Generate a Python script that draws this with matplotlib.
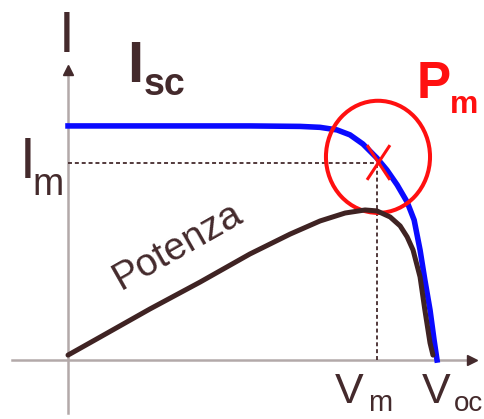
import matplotlib.pyplot as plt
from matplotlib.patches import Ellipse
from matplotlib.path import Path

# === Curve data (V and I in % of Voc / Isc) ===
v_iv = [0, 22.2, 49.3, 62.9, 68.3, 72.9, 76.4, 79.9, 83.7, 86.4, 89.2, 91.9,
        93.8, 95.4, 96.7, 98.1, 99.2, 100]
i_iv = [100, 100, 100, 99.8, 99.4, 98.3, 96.2, 92.3, 86.3, 81.2, 74.8, 67.5,
        59.8, 47.0, 34.2, 21.4, 8.5, 0]

v_pow = [0, 8.7, 22.2, 35.8, 49.3, 60.2, 68.3, 75.1, 80.5, 83.7, 87.3, 90.0,
         91.9, 93.5, 95.4, 96.7, 98.1, 98.9]
p_pow = [2.1, 9.8, 21.8, 33.3, 45.3, 53.8, 59.4, 62.8, 64.1, 63.7, 61.1, 57.3,
         52.6, 47.0, 35.5, 21.4, 7.3, 2.1]

# maximum power point
VM = 83.7
IM = 84.2

TEXT_COL = '#442a2c'
CURVE_COL = '#3f2323'
AXIS_COL = '#b3a9a9'
RED = '#ff1010'
FONT = 'Liberation Sans'

fig = plt.figure(figsize=(4.85, 4.19), dpi=100)
ax = fig.add_axes([0, 0, 1, 1])
ax.set_xlim(-18.43, 113.0)
ax.set_ylim(-25.2, 153.8)
ax.axis('off')

# axes with arrow heads
ax.plot([0, 0], [-22.6, 124.5], color=AXIS_COL, lw=1.8, zorder=1)
ax.plot([-15.2, 109.5], [0, 0], color=AXIS_COL, lw=1.8, zorder=1)
ax.plot(0, 124.0, marker='^', ms=7.5, color=TEXT_COL, zorder=2)
ax.plot(109.4, 0, marker='>', ms=7.5, color=TEXT_COL, zorder=2)

# guide lines to the max power point
dash = (0, (2.2, 1.6))
ax.plot([0, VM], [IM, IM], color=TEXT_COL, lw=1.3, linestyle=dash, zorder=2)
ax.plot([VM, VM], [0, IM], color=TEXT_COL, lw=1.3, linestyle=dash, zorder=2)

# I-V curve and power curve
ax.plot(v_iv, i_iv, color='#0a0aff', lw=4.0, solid_joinstyle='round', zorder=3)
ax.add_patch(Ellipse((84.0, 86.8), 28.2, 47.9, fill=False, edgecolor=RED,
                     lw=2.9, zorder=4))
ax.plot(v_pow, p_pow, color=CURVE_COL, lw=3.6, solid_joinstyle='round',
        solid_capstyle='round', zorder=5)

# red cross on the max power point
cross = Path([(-0.33, 0.5), (0.33, -0.5), (0.33, 0.5), (-0.33, -0.5)],
             [Path.MOVETO, Path.LINETO, Path.MOVETO, Path.LINETO])
ax.plot(84.0, 84.6, marker=cross, ms=25, mew=2.2, color=RED, zorder=6)

# labels
ax.text(-0.5, 131.6, 'I', fontsize=41, family=FONT, color=TEXT_COL,
        ha='center', va='baseline')
ax.text(16.0, 118.8, 'I', fontsize=42, family=FONT, fontweight='bold',
        color=TEXT_COL, ha='left', va='baseline')
ax.text(20.6, 113.2, 'sc', fontsize=27, family=FONT, fontweight='bold',
        color=TEXT_COL, ha='left', va='baseline')
ax.text(-13.0, 77.8, 'I', fontsize=41, family=FONT, color=TEXT_COL,
        ha='left', va='baseline')
ax.text(-9.5, 70.5, 'm', fontsize=27, family=FONT, color=TEXT_COL,
        ha='left', va='baseline')
ax.text(94.6, 112.0, 'P', fontsize=37, family=FONT, fontweight='bold',
        color=RED, ha='left', va='baseline')
ax.text(103.6, 105.6, 'm', fontsize=23, family=FONT, fontweight='bold',
        color=RED, ha='left', va='baseline')
ax.text(72.4, -18.4, 'V', fontsize=31, family=FONT, color=TEXT_COL,
        ha='left', va='baseline')
ax.text(81.3, -21.9, 'm', fontsize=21, family=FONT, color=TEXT_COL,
        ha='left', va='baseline')
ax.text(95.9, -18.4, 'V', fontsize=31, family=FONT, color=TEXT_COL,
        ha='left', va='baseline')
ax.text(104.6, -21.9, 'oc', fontsize=20, family=FONT, color=TEXT_COL,
        ha='left', va='baseline')
ax.text(14.2, 29.9, 'Potenza', fontsize=28, family=FONT, color=TEXT_COL,
        rotation=29.5, rotation_mode='anchor', ha='left', va='baseline')

fig.savefig('out.png', dpi=100)
